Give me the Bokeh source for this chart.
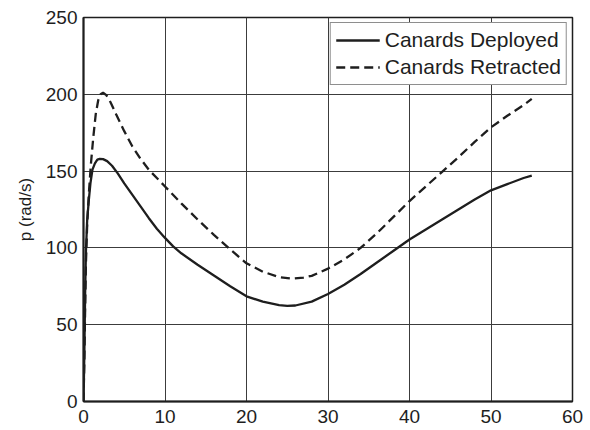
from bokeh.plotting import figure
from bokeh.models import Range1d, FixedTicker, Legend, LegendItem
from bokeh.embed import file_html
from bokeh.resources import INLINE

# Roll rate p (rad/s) versus time for the two canard configurations
t_deployed = [0, 0.1, 0.2, 0.3, 0.45, 0.65, 0.85, 1.1, 1.4, 1.7, 2.0, 2.4, 2.9,
              3.5, 4.2, 5.0, 6.0, 7.0, 8.0, 9.0, 10, 11, 12, 14, 16, 18, 20, 22,
              24, 25, 26, 28, 30, 32, 34, 36, 38, 40, 42, 44, 46, 48, 50, 52,
              54, 55]
p_deployed = [0, 30, 70, 98, 118, 131, 142, 151, 155, 157.5, 158, 157.8, 156.5,
              153.5, 148.5, 142, 134.5, 127, 119.5, 112.5, 106.5, 101, 96.5,
              89, 82, 75, 68.5, 65, 62.8, 62.3, 62.5, 65, 70, 76, 83, 90.5, 98,
              105.5, 112, 118.5, 125, 131.5, 137.5, 141.5, 145.5, 147]

t_retracted = [0, 0.1, 0.2, 0.3, 0.45, 0.65, 0.9, 1.2, 1.5, 1.8, 2.1, 2.4, 2.8,
               3.3, 4, 5, 6, 7, 8, 9, 10, 12, 14, 16, 18, 20, 22, 24, 25.5, 27,
               28, 30, 32, 34, 36, 38, 40, 42, 44, 46, 48, 50, 52, 54, 55]
p_retracted = [0, 25, 60, 90, 115, 135, 154, 172, 187, 196, 200, 201, 199.5,
               195, 187, 176, 166, 158, 151, 145.5, 140, 129, 118.5, 108.5, 99,
               90, 84.5, 81, 80, 80.7, 81.8, 86.5, 92.5, 100, 109.5, 120, 130.5,
               140, 149.5, 159, 169, 178.5, 186, 193, 197]

x_ticks = [0, 10, 20, 30, 40, 50, 60]
y_ticks = [0, 50, 100, 150, 200, 250]

FONT = "Liberation Sans"
INK = "#1e1e1e"

p = figure(width=590, height=430, output_backend="svg", toolbar_location=None,
           x_range=Range1d(0, 60), y_range=Range1d(0, 250),
           min_border_left=83, min_border_right=18,
           min_border_top=17, min_border_bottom=29)

p.background_fill_color = "white"
p.border_fill_color = "white"
p.outline_line_color = INK
p.outline_line_width = 1.5

for ax in (p.xaxis[0], p.yaxis[0]):
    ax.major_tick_line_color = None
    ax.minor_tick_line_color = None
    ax.major_tick_out = 0
    ax.major_tick_in = 0
    ax.axis_line_color = INK
    ax.axis_line_width = 2
    ax.major_label_text_font = FONT
    ax.major_label_text_font_size = "19px"
    ax.major_label_text_color = INK

p.xaxis.ticker = FixedTicker(ticks=x_ticks)
p.yaxis.ticker = FixedTicker(ticks=y_ticks)
p.xaxis.major_label_standoff = 8
p.yaxis.major_label_standoff = 6

p.yaxis.axis_label = "p (rad/s)"
p.yaxis.axis_label_text_font = FONT
p.yaxis.axis_label_text_font_size = "17px"
p.yaxis.axis_label_text_font_style = "normal"
p.yaxis.axis_label_text_color = INK
p.yaxis.axis_label_standoff = 8

p.xgrid.grid_line_color = "#3c3c3c"
p.ygrid.grid_line_color = "#3c3c3c"
p.xgrid.grid_line_width = 1
p.ygrid.grid_line_width = 1

r1 = p.line(t_deployed, p_deployed, line_color=INK, line_width=2.3)
r2 = p.line(t_retracted, p_retracted, line_color=INK, line_width=2.3,
            line_dash="9 5")

legend = Legend(items=[LegendItem(label="Canards Deployed", renderers=[r1]),
                       LegendItem(label="Canards Retracted", renderers=[r2])],
                location="top_right")
legend.margin = 5
legend.padding = 5
legend.spacing = 3
legend.glyph_width = 44
legend.glyph_height = 24
legend.label_height = 24
legend.label_standoff = 5
legend.label_text_font = FONT
legend.label_text_font_size = "21px"
legend.label_text_color = INK
legend.border_line_color = INK
legend.border_line_width = 1.5
legend.background_fill_color = "white"
legend.background_fill_alpha = 1
p.add_layout(legend, "center")

open("out.html", "w").write(file_html(p, INLINE))
